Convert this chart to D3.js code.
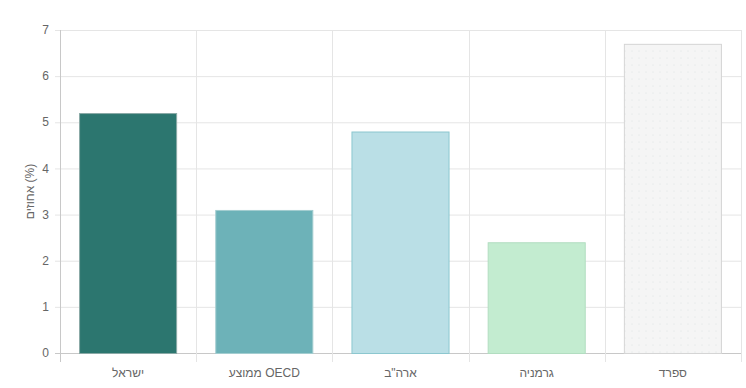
<!DOCTYPE html>
<html>
<head>
<meta charset="utf-8">
<script src="https://cdn.jsdelivr.net/npm/d3@7"></script>
<style>
  body { margin: 0; background: #fff; }
  svg { font-family: "Liberation Sans", Arial, sans-serif; }
</style>
</head>
<body>
<div id="chart"></div>
<script>
// data
var categories = ["ישראל", "ממוצע OECD", "ארה\"ב", "גרמניה", "ספרד"];
var values = [5.2, 3.1, 4.8, 2.4, 6.7];
var barColors = ["#2c766f", "#6db2b8", "#badfe6", "#c3ecd0", "#f5f5f5"];
var borderColors = ["#8aa9a6", "#a3cdd0", "#8cc7cf", "#b2ddc0", "#d5d5d5"];
var yTicks = [0, 1, 2, 3, 4, 5, 6, 7];
var yTitle = "אחוזים (%)";

var width = 746, height = 388;
var margin = {top: 30, right: 5, bottom: 35, left: 60};

var svg = d3.select("#chart").append("svg")
  .attr("width", width)
  .attr("height", height);

// dotted pattern for the light bar
var defs = svg.append("defs");
var pat = defs.append("pattern")
  .attr("id", "dots")
  .attr("width", 7).attr("height", 7)
  .attr("patternUnits", "userSpaceOnUse");
pat.append("rect").attr("width", 7).attr("height", 7).attr("fill", "#f5f5f5");
pat.append("circle").attr("cx", 2).attr("cy", 2).attr("r", 0.6).attr("fill", "#dde3e3");

var x = d3.scaleBand()
  .domain(categories)
  .range([margin.left, width - margin.right])
  .paddingInner(0.28)
  .paddingOuter(0.14);

// band boundaries for gridlines
var step = (width - margin.right - margin.left) / categories.length;

var y = d3.scaleLinear()
  .domain([0, 7])
  .range([height - margin.bottom, margin.top]);

// horizontal grid
svg.append("g")
  .selectAll("line")
  .data(yTicks)
  .enter()
  .append("line")
    .attr("x1", margin.left - 5)
    .attr("x2", width - margin.right)
    .attr("y1", d => y(d) + 0.5)
    .attr("y2", d => y(d) + 0.5)
    .attr("stroke", d => d == 0 ? "#c8c8c8" : "#e5e5e5")
    .attr("stroke-width", 1);

// vertical grid at category boundaries
svg.append("g")
  .selectAll("line")
  .data(d3.range(categories.length + 1))
  .enter()
  .append("line")
    .attr("x1", i => Math.round(margin.left + i * step) + 0.5)
    .attr("x2", i => Math.round(margin.left + i * step) + 0.5)
    .attr("y1", margin.top)
    .attr("y2", height - margin.bottom + 9)
    .attr("stroke", (d, i) => i == 0 ? "#c8c8c8" : "#e5e5e5")
    .attr("stroke-width", 1);

// y tick labels
svg.append("g")
  .selectAll("text")
  .data(yTicks)
  .enter()
  .append("text")
    .attr("x", margin.left - 11)
    .attr("y", d => y(d))
    .attr("dy", "0.35em")
    .attr("text-anchor", "end")
    .attr("font-size", "12px")
    .attr("fill", "#666")
    .text(d => d);

// y title
svg.append("text")
  .attr("transform", "translate(34," + ((margin.top + height - margin.bottom) / 2) + ") rotate(-90)")
  .attr("text-anchor", "middle")
  .attr("font-size", "12px")
  .attr("fill", "#666")
  .text(yTitle);

// bars
svg.append("g")
  .selectAll("rect")
  .data(values)
  .enter()
  .append("rect")
    .attr("x", (d, i) => x(categories[i]) + 0.5)
    .attr("y", d => y(d) + 0.5)
    .attr("width", x.bandwidth() - 1)
    .attr("height", d => y(0) - y(d))
    .attr("fill", (d, i) => i == 4 ? "url(#dots)" : barColors[i])
    .attr("stroke", (d, i) => borderColors[i])
    .attr("stroke-width", 1);

// category labels
svg.append("g")
  .selectAll("text")
  .data(categories)
  .enter()
  .append("text")
    .attr("x", d => x(d) + x.bandwidth() / 2)
    .attr("y", height - margin.bottom + 20)
    .attr("dy", "0.35em")
    .attr("text-anchor", "middle")
    .attr("font-size", "12px")
    .attr("fill", "#666")
    .text(d => d);
</script>
</body>
</html>
